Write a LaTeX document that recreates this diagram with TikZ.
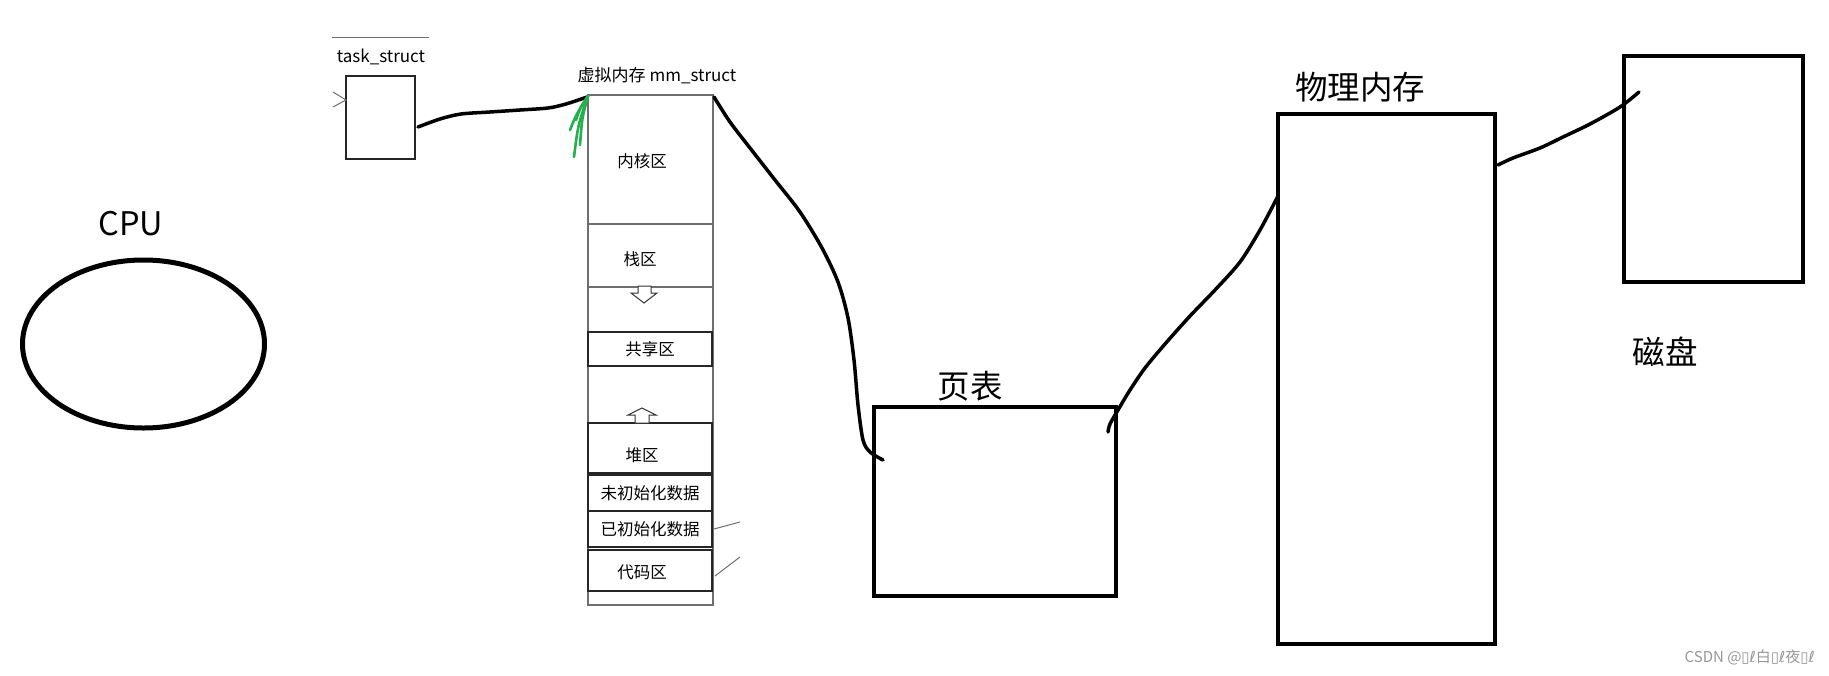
\documentclass[tikz,border=0pt]{standalone}
\usepackage{fontspec}
\usetikzlibrary{shapes.geometric}
\setmainfont{Noto Sans CJK SC}
\newfontfamily\dv{DejaVu Sans}
\definecolor{greenpen}{RGB}{34,177,76}
\definecolor{thingray}{RGB}{110,110,110}
\definecolor{wm}{RGB}{150,150,150}
\tikzset{
  thick box/.style={draw=black, line width=4.5pt, inner sep=0pt},
  thin box/.style={draw=black!85, line width=1.2pt, inner sep=0pt},
  mm box/.style={draw=thingray, line width=1.3pt, inner sep=0pt},
  big label/.style={font=\fontsize{32.5}{36}\selectfont, inner sep=0pt},
  small label/.style={font=\fontsize{16.5}{19}\selectfont, inner sep=0pt},
  pen/.style={draw=black, line width=3.5pt, line cap=round, line join=round},
  greenstroke/.style={draw=greenpen, line width=2.6pt, line cap=round},
  hollow arrow/.style={draw=black!80, line width=1pt, fill=white},
  thin line/.style={draw=thingray, line width=1pt}
}
\begin{document}
\begin{tikzpicture}[x=1pt,y=-1pt]
\useasboundingbox (0,0) rectangle (1829,675);

% CPU
\node[big label] (cputext) at (131,224) {CPU};
\node[draw=black, line width=5pt, ellipse, minimum width=242pt, minimum height=168pt, inner sep=0pt] (cpu) at (143.5,344) {};

% task_struct
\coordinate (topA) at (332,37);
\coordinate (topB) at (429,37);
\draw[thin line] (topA) -- (topB);
\node[small label, font=\fontsize{17}{19}\selectfont] (tasktext) at (381,57) {task\_struct};
\node[thin box, minimum width=69pt, minimum height=83pt] (task) at (380.5,117.5) {};
\coordinate (tickA) at (333,92);
\coordinate (tickB) at (333,107);
\coordinate (tickC) at (346,100);
\draw[thin line] (tickA) -- (tickC) -- (tickB);

% mm_struct
\node[small label, font=\fontsize{17}{19}\selectfont] (mmtext) at (657,76) {虚拟内存 mm\_struct};
\node[mm box, minimum width=125pt, minimum height=510pt] (mm) at (650.5,350) {};
\coordinate (l1a) at (588,224); \coordinate (l1b) at (713,224);
\coordinate (l2a) at (588,287); \coordinate (l2b) at (713,287);
\draw[thin line, line width=1.2pt] (l1a) -- (l1b);
\draw[thin line, line width=1.2pt] (l2a) -- (l2b);
\node[small label] (kernel) at (642,161) {内核区};
\node[small label] (stack) at (640,259) {栈区};
\node[thin box, minimum width=124pt, minimum height=34pt] (share) at (650,349) {};
\node[small label] at (share) {共享区};
\node[thin box, minimum width=124pt, minimum height=50pt] (heap) at (650,448) {};
\node[small label] at (642,455) {堆区};
\node[thin box, minimum width=124pt, minimum height=36pt] (bss) at (650,493) {};
\node[small label] at (bss) {未初始化数据};
\node[thin box, minimum width=124pt, minimum height=36pt] (data) at (650,529) {};
\node[small label] at (data) {已初始化数据};
\node[thin box, minimum width=124pt, minimum height=41pt] (code) at (650,570.5) {};
\node[small label] at (642,572) {代码区};

% hollow arrows
\draw[hollow arrow] (638,286) -- (651,286) -- (651,293) -- (657,293) -- (644,303) -- (631,293) -- (638,293) -- cycle;
\draw[hollow arrow] (635,423) -- (649,423) -- (649,415) -- (656,415) -- (642,408) -- (628,415) -- (635,415) -- cycle;

% small lines right of mm
\coordinate (s1a) at (714,529); \coordinate (s1b) at (740,522);
\coordinate (s2a) at (715,576); \coordinate (s2b) at (740,557);
\draw[thin line] (s1a) -- (s1b);
\draw[thin line] (s2a) -- (s2b);

% page table
\node[big label] (pttext) at (970,386) {页表};
\node[thick box, minimum width=242pt, minimum height=189pt] (pt) at (995,501.5) {};

% physical memory
\node[big label] (pmtext) at (1360,87) {物理内存};
\node[thick box, minimum width=217pt, minimum height=530pt] (pm) at (1386.5,379) {};

% disk
\node[thick box, minimum width=179pt, minimum height=226pt] (disk) at (1713.5,169) {};
\node[big label] (disktext) at (1665,352) {磁盘};

% connectors
\coordinate (c1s) at (418,127);
\coordinate (c1e) at (587,97);
\draw[pen] plot[smooth, tension=0.5] coordinates {(c1s) (440,119) (461,114) (490,112) (520,110) (548,108) (566,104) (c1e)};

\coordinate (g1) at (574,157);
\coordinate (g2) at (570,130);
\coordinate (g3) at (580,145);
\coordinate (g4) at (576,120);
\coordinate (gtip) at (588,96);
\draw[greenstroke] (g1) .. controls (578,125) .. (gtip);
\draw[greenstroke] (g2) .. controls (576,115) .. (gtip);
\draw[greenstroke] (g3) .. controls (582,118) .. (gtip);
\draw[greenstroke] (g4) .. controls (580,108) .. (gtip);

\coordinate (c2s) at (714,97);
\coordinate (c2e) at (883,460);
\draw[pen] plot[smooth, tension=0.5] coordinates {(c2s) (730,122) (750,148) (775,180) (800,212) (822,248) (838,282) (848,318) (854,360) (858,405) (863,440) (870,452) (c2e)};

\coordinate (c3s) at (1108,432);
\coordinate (c3e) at (1278,196);
\draw[pen] plot[smooth, tension=0.5] coordinates {(c3s) (1110,424) (1118,410) (1130,390) (1145,368) (1165,344) (1190,316) (1215,290) (1240,262) (1260,230) (c3e)};

\coordinate (c4s) at (1498,165);
\coordinate (c4e) at (1639,92);
\draw[pen] plot[smooth, tension=0.5] coordinates {(c4s) (1513,158) (1540,148) (1563,137) (1590,124) (1620,107) (c4e)};

% watermark
\node[anchor=east, text=wm, font=\fontsize{15}{17}\selectfont, inner sep=0pt] (wmark) at (1815,657) {CSDN @{\dv ▯ℓ}白{\dv ▯ℓ}夜{\dv ▯ℓ}};
\end{tikzpicture}
\end{document}
